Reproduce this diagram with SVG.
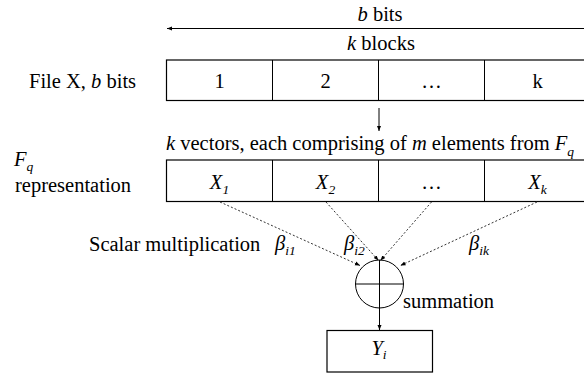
<svg xmlns="http://www.w3.org/2000/svg" width="584" height="375" viewBox="0 0 584 375">
<defs>
<marker id="ah" viewBox="0 0 10 10" refX="10" refY="5" markerWidth="5" markerHeight="5" orient="auto" markerUnits="userSpaceOnUse">
<path d="M0,1 L10,5 L0,9 z" fill="#000"/>
</marker>
</defs>
<style>
text{font-family:"Liberation Serif","Times New Roman",serif;font-size:20.5px;fill:#000}
.c{text-anchor:middle}
.i{font-style:italic}
.sub{font-size:13.5px;font-style:italic}
.box{fill:#fff;stroke:#000;stroke-width:1.2}
.ln{stroke:#000;stroke-width:1;fill:none}
.dot{stroke:#333;stroke-width:1;stroke-dasharray:2,2;fill:none}
</style>
<rect width="584" height="375" fill="#fff"/>
<g id="labels">
<text class="c" x="380" y="20.5"><tspan class="i">b</tspan> bits</text>
<text class="c" x="381" y="49.5"><tspan class="i">k</tspan> blocks</text>
<text x="29" y="88"><tspan>File X, </tspan><tspan class="i">b</tspan> bits</text>
<text x="166" y="150"><tspan class="i">k</tspan> vectors, each comprising of <tspan class="i">m</tspan> elements from <tspan class="i">F</tspan><tspan class="sub" dy="6">q</tspan></text>
<text x="14" y="166" class="i">F<tspan class="sub" dy="5">q</tspan></text>
<text x="15" y="192">representation</text>
<text x="89" y="251">Scalar multiplication</text>
<text x="275" y="250" class="i">β<tspan class="sub" dy="5">i1</tspan></text>
<text x="344" y="250" class="i">β<tspan class="sub" dy="5">i2</tspan></text>
<text x="469" y="250" class="i">β<tspan class="sub" dy="5">ik</tspan></text>
<text x="403" y="308">summation</text>
</g>
<g id="file-row">
<rect class="box" x="166.5" y="60" width="424" height="40.5"/>
<line class="ln" x1="272.5" y1="60" x2="272.5" y2="100.5"/>
<line class="ln" x1="378.5" y1="60" x2="378.5" y2="100.5"/>
<line class="ln" x1="484.5" y1="60" x2="484.5" y2="100.5"/>
<text class="c" x="219.5" y="88">1</text>
<text class="c" x="325.5" y="88">2</text>
<text class="c" x="431.5" y="88">…</text>
<text class="c" x="537.5" y="88">k</text>
</g>
<g id="vector-row">
<rect class="box" x="166.5" y="160" width="424" height="41.5"/>
<line class="ln" x1="272.5" y1="160" x2="272.5" y2="201.5"/>
<line class="ln" x1="378.5" y1="160" x2="378.5" y2="201.5"/>
<line class="ln" x1="484.5" y1="160" x2="484.5" y2="201.5"/>
<text class="c i" x="219.5" y="189">X<tspan class="sub" dy="5">1</tspan></text>
<text class="c i" x="325.5" y="189">X<tspan class="sub" dy="5">2</tspan></text>
<text class="c" x="431.5" y="189">…</text>
<text class="c i" x="537.5" y="189">X<tspan class="sub" dy="5">k</tspan></text>
</g>
<g id="summation">
<circle class="ln" cx="379.5" cy="284" r="24"/>
<line class="ln" x1="355.5" y1="284" x2="403.5" y2="284"/>
<line class="ln" x1="379.5" y1="260" x2="379.5" y2="308"/>
</g>
<g id="output">
<rect class="box" x="327" y="330.5" width="105.5" height="41.5"/>
<text class="c i" x="379" y="355">Y<tspan class="sub" dy="4">i</tspan></text>
</g>
<g id="connectors">
<line class="ln" x1="590" y1="28.5" x2="167" y2="28.5" marker-end="url(#ah)"/>
<line class="ln" x1="379" y1="108" x2="379" y2="131" marker-end="url(#ah)"/>
<line class="dot" x1="220" y1="202" x2="360" y2="265.5" marker-end="url(#ah)"/>
<line class="dot" x1="326" y1="202" x2="378.5" y2="260.5" marker-end="url(#ah)"/>
<line class="dot" x1="431.5" y1="202" x2="380.5" y2="260.5" marker-end="url(#ah)"/>
<line class="dot" x1="537" y1="202" x2="400.5" y2="265.5" marker-end="url(#ah)"/>
<line class="ln" x1="379.5" y1="308" x2="379.5" y2="330" marker-end="url(#ah)"/>
</g>
</svg>
